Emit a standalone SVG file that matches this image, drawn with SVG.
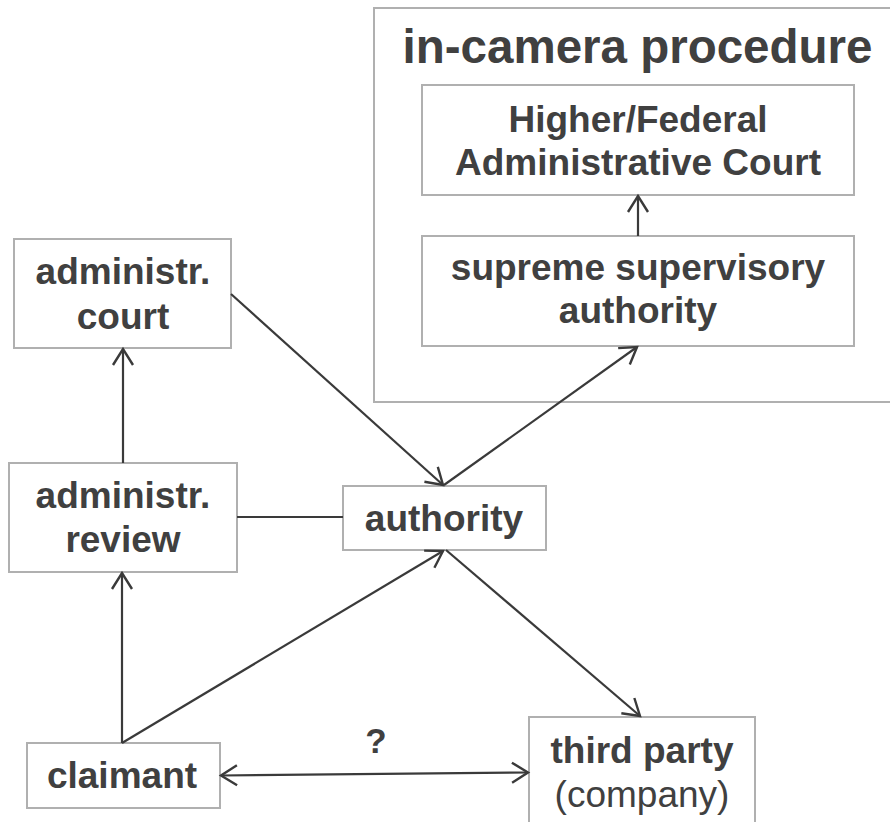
<svg xmlns="http://www.w3.org/2000/svg" width="890" height="822" viewBox="0 0 890 822">
<defs>
<style>
.box{fill:#fff;stroke:#b0b0b0;stroke-width:2}
.t{font-family:"Liberation Sans",Arial,sans-serif;font-weight:bold;font-size:37px;fill:#404040;text-anchor:middle}
.n{font-weight:normal}
.c{fill:none;stroke:#3a3a3a;stroke-width:2.2}
</style>
<marker id="ah" markerUnits="userSpaceOnUse" markerWidth="24" markerHeight="24" viewBox="-18 -12 24 24" refX="0" refY="0" orient="auto-start-reverse" overflow="visible">
<path d="M-16,-10 L0,0 L-16,10" fill="none" stroke="#3a3a3a" stroke-width="2.4"/>
</marker>
</defs>
<rect width="890" height="822" fill="#fff"/>
<g id="in-camera">
<rect x="374" y="8" width="530" height="394" fill="none" stroke="#b0b0b0" stroke-width="2"/>
<text class="t" x="637.5" y="63" style="font-size:47.5px">in-camera procedure</text>
</g>
<g id="federal-court">
<rect class="box" x="422" y="85" width="432" height="110"/>
<text class="t" x="638" y="132">Higher/Federal</text>
<text class="t" x="638" y="175">Administrative Court</text>
</g>
<g id="supreme">
<rect class="box" x="422" y="236" width="432" height="110"/>
<text class="t" x="638" y="280">supreme supervisory</text>
<text class="t" x="638" y="323">authority</text>
</g>
<g id="admin-court">
<rect class="box" x="14" y="239" width="217" height="109"/>
<text class="t" x="123" y="284">administr.</text>
<text class="t" x="123" y="329">court</text>
</g>
<g id="admin-review">
<rect class="box" x="9" y="463" width="228" height="109"/>
<text class="t" x="123" y="508">administr.</text>
<text class="t" x="123" y="552">review</text>
</g>
<g id="authority">
<rect class="box" x="343" y="486" width="203" height="64"/>
<text class="t" x="444" y="531">authority</text>
</g>
<g id="claimant">
<rect class="box" x="27" y="743" width="193" height="65"/>
<text class="t" x="122" y="788">claimant</text>
</g>
<g id="third-party">
<rect class="box" x="529" y="717" width="226" height="115"/>
<text class="t" x="642" y="763">third party</text>
<text class="t n" x="642" y="807">(company)</text>
</g>
<g id="connectors">
<line class="c" x1="638" y1="236" x2="638" y2="196" marker-end="url(#ah)"/>
<line class="c" x1="444" y1="485" x2="637" y2="347" marker-end="url(#ah)"/>
<line class="c" x1="123" y1="463" x2="123" y2="349" marker-end="url(#ah)"/>
<line class="c" x1="231" y1="294" x2="443" y2="485" marker-end="url(#ah)"/>
<line class="c" x1="237" y1="517" x2="343" y2="517"/>
<line class="c" x1="122" y1="743" x2="122" y2="573" marker-end="url(#ah)"/>
<line class="c" x1="122" y1="743" x2="443" y2="551" marker-end="url(#ah)"/>
<line class="c" x1="446" y1="550" x2="640" y2="716" marker-end="url(#ah)"/>
<line class="c" x1="221" y1="775.5" x2="528" y2="772.5" marker-start="url(#ah)" marker-end="url(#ah)"/>
<text class="t" x="376" y="753" style="font-size:35px">?</text>
</g>
</svg>
